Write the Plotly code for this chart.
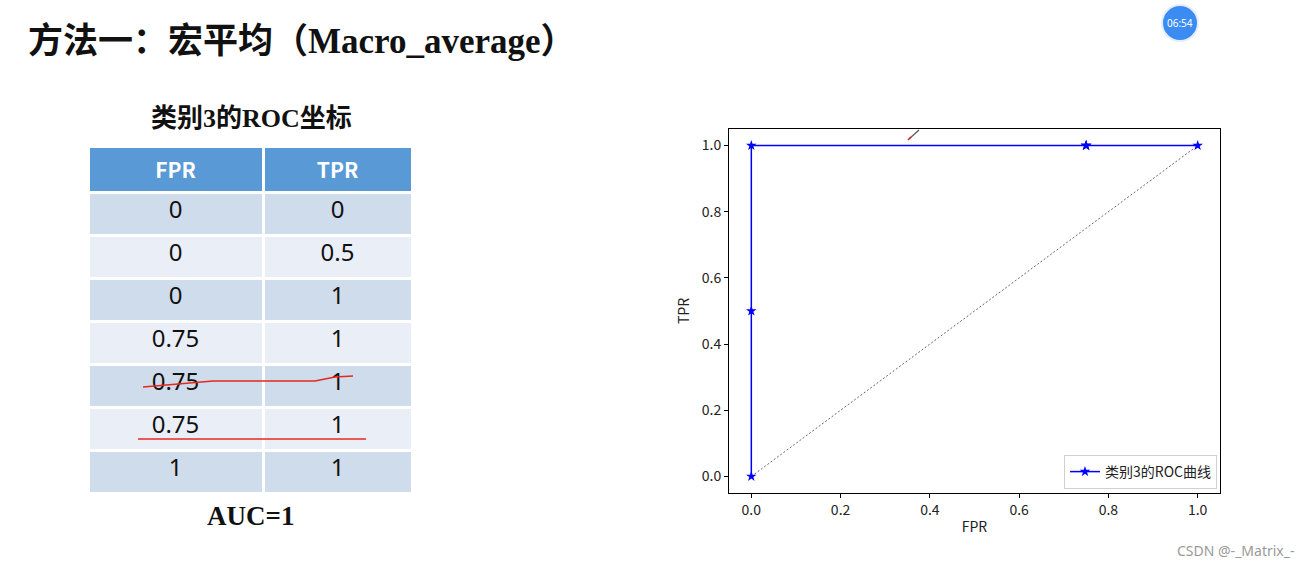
import plotly.graph_objects as go

W, H = 1312, 566

# ---- data ----
fpr_labels = ["0", "0", "0", "0.75", "0.75", "0.75", "1"]
tpr_labels = ["0", "0.5", "1", "1", "1", "1", "1"]
fpr = [0, 0, 0, 0.75, 0.75, 0.75, 1]
tpr = [0, 0.5, 1, 1, 1, 1, 1]
diag_x = [0, 1]
diag_y = [0, 1]
x_ticks = [0.0, 0.2, 0.4, 0.6, 0.8, 1.0]
y_ticks = [0.0, 0.2, 0.4, 0.6, 0.8, 1.0]
legend_name = "类别3的ROC曲线"


def px(x):
    return x / W


def py(y):
    return 1 - y / H


fig = go.Figure()

# ---- table ----
dark, light = "#cfdcec", "#e9eef7"
row_colors = [dark if i % 2 == 0 else light for i in range(len(fpr_labels))]
fig.add_trace(go.Table(
    domain=dict(x=[px(88), px(413)], y=[py(494), py(146)]),
    columnwidth=[175, 149],
    header=dict(
        values=["<b>FPR</b>", "<b>TPR</b>"],
        fill_color="#5899d6",
        line=dict(color="white", width=3),
        font=dict(family="Noto Sans CJK SC, Noto Sans", size=21, color="white"),
        align="center", height=44,
    ),
    cells=dict(
        values=[fpr_labels, tpr_labels],
        fill_color=[row_colors, row_colors],
        line=dict(color="white", width=3),
        font=dict(family="Noto Sans, Open Sans", size=24, color="#111111"),
        align="center", height=43,
    ),
))

# ---- ROC chart ----
fig.add_trace(go.Scatter(
    x=diag_x, y=diag_y, mode="lines",
    line=dict(color="#444444", width=0.8, dash="2px,2px"),
    showlegend=False, hoverinfo="skip",
))
fig.add_trace(go.Scatter(
    x=fpr, y=tpr, mode="lines+markers", name=legend_name,
    line=dict(color="#0000ff", width=1.5),
    marker=dict(symbol="star", size=8, color="#0000ff"),
))

axis_font = dict(family="Noto Sans CJK SC, Noto Sans", size=14, color="#222222")
fig.update_xaxes(
    domain=[px(729), px(1220)], range=[-0.05, 1.05],
    tickvals=x_ticks, ticktext=[f"{v:.1f}" for v in x_ticks],
    ticks="outside", ticklen=4, tickcolor="black",
    showline=True, linecolor="black", linewidth=1, mirror=True,
    showgrid=False, zeroline=False, tickfont=axis_font,
    title=dict(text="FPR", font=axis_font, standoff=4),
)
fig.update_yaxes(
    domain=[py(493), py(129)], range=[-0.05, 1.05],
    tickvals=y_ticks, ticktext=[f"{v:.1f}" for v in y_ticks],
    ticks="outside", ticklen=4, tickcolor="black",
    showline=True, linecolor="black", linewidth=1, mirror=True,
    showgrid=False, zeroline=False, tickfont=axis_font,
    title=dict(text="TPR", font=axis_font, standoff=8),
)

annotations = [
    dict(x=px(26), y=py(42), xref="paper", yref="paper", xanchor="left", yanchor="middle",
         text="<b>方法一：宏平均（Macro_average）</b>", showarrow=False,
         font=dict(family="Liberation Serif, Noto Sans CJK SC", size=35, color="#111111")),
    dict(x=px(251), y=py(118), xref="paper", yref="paper", xanchor="center", yanchor="middle",
         text="<b>类别3的ROC坐标</b>", showarrow=False,
         font=dict(family="Liberation Serif, Noto Sans CJK SC", size=26, color="#111111")),
    dict(x=px(250), y=py(516), xref="paper", yref="paper", xanchor="center", yanchor="middle",
         text="<b>AUC=1</b>", showarrow=False,
         font=dict(family="Liberation Serif", size=27, color="#111111")),
    dict(x=px(1180), y=py(23), xref="paper", yref="paper", xanchor="center", yanchor="middle",
         text="06:54", showarrow=False,
         font=dict(family="Noto Sans", size=10, color="white")),
    dict(x=px(1296), y=py(550), xref="paper", yref="paper", xanchor="right", yanchor="middle",
         text="CSDN @-_Matrix_-", showarrow=False,
         font=dict(family="Noto Sans, Liberation Sans", size=14, color="#9a9a9a")),
]

shapes = [
    # clock badge
    dict(type="circle", xref="paper", yref="paper",
         x0=px(1162), x1=px(1198), y0=py(41), y1=py(5),
         fillcolor="#3b8cf2", line=dict(color="#e6eefb", width=2), layer="below"),
    # red hand-drawn strike lines
    dict(type="path", xref="paper", yref="paper",
         path=f"M {px(143)},{py(387)} L {px(213)},{py(381)} L {px(315)},{py(381)} L {px(335)},{py(377)} L {px(353)},{py(376)}",
         line=dict(color="#e8281e", width=1.6)),
    dict(type="line", xref="paper", yref="paper",
         x0=px(138), x1=px(366), y0=py(439), y1=py(439),
         line=dict(color="#e8281e", width=1.6)),
    # little pen cursor
    dict(type="line", xref="paper", yref="paper",
         x0=px(909), x1=px(919), y0=py(139), y1=py(130),
         line=dict(color="#666666", width=1.5)),
    dict(type="line", xref="paper", yref="paper",
         x0=px(908), x1=px(911), y0=py(140), y1=py(137),
         line=dict(color="#e02020", width=1.5)),
]

fig.update_layout(
    width=W, height=H,
    margin=dict(l=0, r=0, t=0, b=0),
    paper_bgcolor="white", plot_bgcolor="white",
    annotations=annotations, shapes=shapes,
    legend=dict(
        x=px(1217), y=py(489), xanchor="right", yanchor="bottom",
        bgcolor="white", bordercolor="#d0d0d0", borderwidth=1,
        font=dict(family="Noto Sans CJK SC", size=14, color="#222222"),
        itemwidth=30,
    ),
    showlegend=True,
)

fig.write_html("out.html")
